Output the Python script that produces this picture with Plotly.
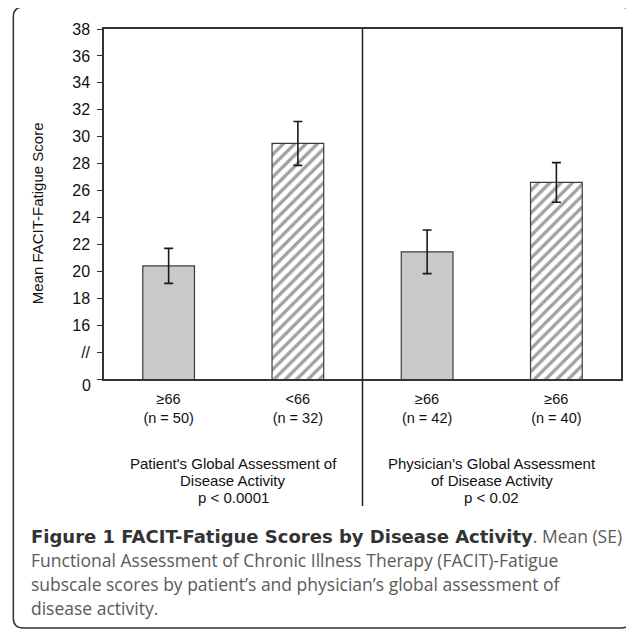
import plotly.graph_objects as go

# ---------------- data ----------------
categories = ["≥66<br>(n = 50)", "&lt;66<br>(n = 32)", "≥66<br>(n = 42)", "≥66<br>(n = 40)"]
mean_scores = [20.4, 29.5, 21.45, 26.6]
se_values = [1.3, 1.63, 1.62, 1.47]
bar_patterns = ["", "/", "", "/"]
bar_colors = ["#C9C9C9", "#FFFFFF", "#C9C9C9", "#FFFFFF"]

y_tick_values = [12, 14, 16, 18, 20, 22, 24, 26, 28, 30, 32, 34, 36, 38]
y_tick_text = ["", "//", "16", "18", "20", "22", "24", "26", "28", "30", "32", "34", "36", "38"]
zero_label = "0"

group_positions = [0.5, 2.5]
group_lines = [
    ["Patient's Global Assessment of", "Disease Activity", "p &lt; 0.0001"],
    ["Physician's Global Assessment", "of Disease Activity", "p &lt; 0.02"],
]
y_title = "Mean FACIT-Fatigue Score"
caption_title = "Figure 1 FACIT-Fatigue Scores by Disease Activity"
caption_lines = [
    ". Mean (SE)",
    "Functional Assessment of Chronic Illness Therapy (FACIT)-Fatigue",
    "subscale scores by patient\u2019s and physician\u2019s global assessment of",
    "disease activity.",
]

# ---------------- layout geometry ----------------
# the page body has an 8px margin, so the figure is drawn 8px smaller and
# all reference positions are shifted by that offset
OFF = 8
W, H = 634 - OFF, 630 - OFF
ML, MR, MT, MB = 96, 11, 21, 251
PW = W - ML - MR
PH = H - MT - MB


def px_x(px):
    return (px - OFF - ML) / PW


def px_y(py):
    return (H - MB - (py - OFF)) / PH


CHART_FONT = "Liberation Sans, Arial, sans-serif"
CAP_FONT = "Open Sans, sans-serif"
TXT = "#111111"

fig = go.Figure()
fig.add_trace(go.Bar(
    x=categories,
    y=mean_scores,
    width=0.4,
    marker=dict(
        color=bar_colors,
        line=dict(color="#3C3C3C", width=1.2),
        pattern=dict(shape=bar_patterns, fgcolor="#D0D0D0", size=8,
                     solidity=0.42, fillmode="overlay"),
    ),
    error_y=dict(type="data", array=se_values, color="#1A1A1A",
                 thickness=1.6, width=4.5),
    showlegend=False,
))

annotations = []
for gx, lines in zip(group_positions, group_lines):
    for j, line in enumerate(lines):
        annotations.append(dict(
            x=gx, xref="x", y=px_y(463 + 17 * j), yref="paper",
            yanchor="middle", text=line, showarrow=False,
            font=dict(family=CHART_FONT, size=15, color=TXT),
        ))
annotations.append(dict(
    x=px_x(37), xref="paper", xanchor="center",
    y=px_y(213), yref="paper", yanchor="middle",
    text=y_title, textangle=-90, showarrow=False,
    font=dict(family=CHART_FONT, size=15, color=TXT),
))
annotations.append(dict(
    x=px_x(93), xref="paper", xanchor="right",
    y=px_y(385), yref="paper", yanchor="middle",
    text=zero_label, showarrow=False,
    font=dict(family=CHART_FONT, size=16, color=TXT),
))
title_html = ("<span style='font-family:DejaVu Sans;font-size:18px;color:#333333'><b>"
              + caption_title + "</b></span>")
for i, line in enumerate(caption_lines):
    text = title_html + line if i == 0 else line
    annotations.append(dict(
        x=px_x(29), xref="paper", xanchor="left",
        y=px_y(536 + 24 * i), yref="paper", yanchor="middle",
        text=text, showarrow=False, align="left",
        font=dict(family=CAP_FONT, size=17.5, color="#5A5A5A"),
    ))

# rounded outer frame
L, R, T, B = px_x(13), px_x(633), px_y(7), px_y(628)
rx, ry = 10 / PW, 10 / PH
frame_path = (
    f"M {L+rx},{T} L {R-rx},{T} Q {R},{T} {R},{T-ry} "
    f"L {R},{B+ry} Q {R},{B} {R-rx},{B} "
    f"L {L+rx},{B} Q {L},{B} {L},{B+ry} "
    f"L {L},{T-ry} Q {L},{T} {L+rx},{T} Z"
)

shapes = [
    dict(type="line", xref="x", yref="paper", x0=1.5, x1=1.5,
         y0=px_y(506), y1=1, line=dict(color="#222222", width=1.5)),
    dict(type="path", xref="paper", yref="paper", path=frame_path,
         line=dict(color="#333333", width=1.5)),
]

fig.update_layout(
    width=W, height=H,
    margin=dict(l=ML, r=MR, t=MT, b=MB),
    paper_bgcolor="white", plot_bgcolor="white",
    font=dict(family=CHART_FONT, size=15, color=TXT),
    annotations=annotations,
    shapes=shapes,
)
fig.update_xaxes(
    type="category", categoryorder="array", categoryarray=categories,
    range=[-0.5, 3.5], showline=True, linecolor="#333333", linewidth=1.5,
    mirror=True, ticks="", showgrid=False, zeroline=False,
    ticklabelstandoff=6,
    tickfont=dict(family=CHART_FONT, size=14.5, color=TXT),
)
fig.update_yaxes(
    range=[12, 38], tickvals=y_tick_values, ticktext=y_tick_text,
    showline=True, linecolor="#333333", linewidth=1.5, mirror=True,
    ticks="outside", ticklen=5, tickcolor="#333333", tickwidth=1.2,
    ticklabelstandoff=4,
    showgrid=False, zeroline=False,
    tickfont=dict(family=CHART_FONT, size=16, color=TXT),
)

fig.write_html("out.html")
